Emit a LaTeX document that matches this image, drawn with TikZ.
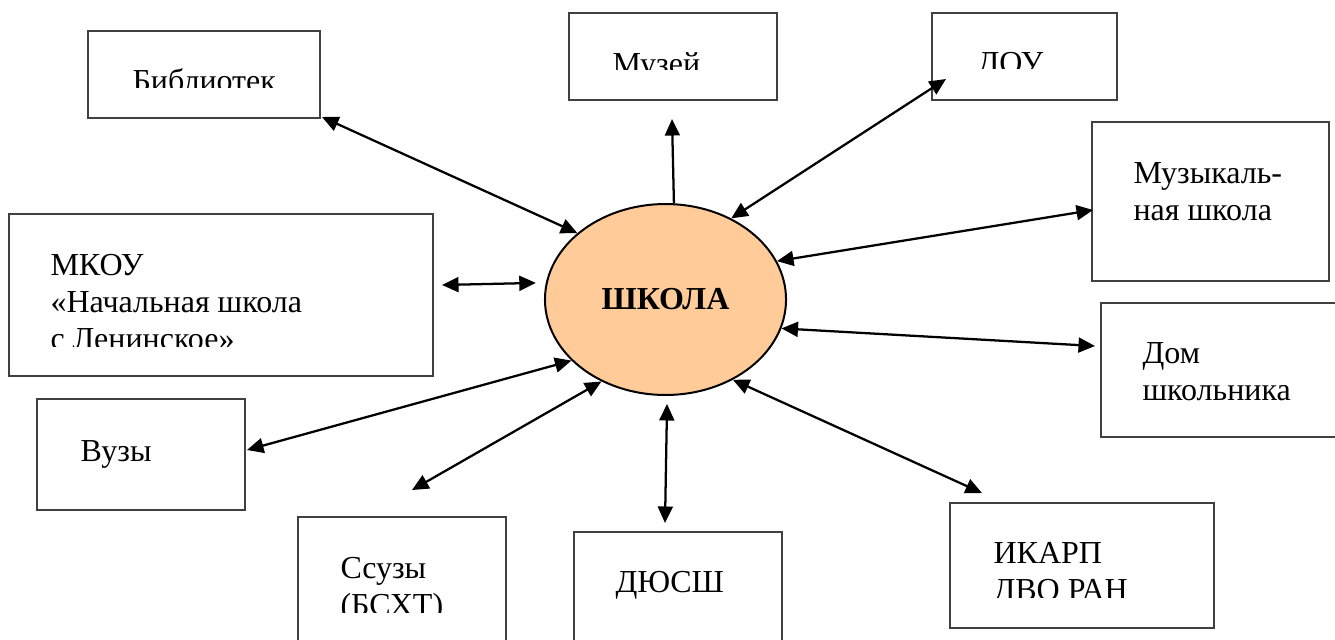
\documentclass[tikz,border=0pt]{standalone}
\usepackage{fontspec}
\setmainfont{Liberation Serif}
\usetikzlibrary{arrows.meta,fit,shapes.geometric}
\definecolor{schoolfill}{HTML}{FFCC99}

\begin{document}
\begin{tikzpicture}[x=0.375pt, y=-0.375pt,
    >={Triangle[length=6.2pt, width=5.6pt]},
    box/.style={draw=black!75, line width=0.4pt, inner sep=0pt},
    txt/.style={anchor=base west, inner sep=0pt, align=left, font=\fontsize{12}{13.8}\selectfont},
    link/.style={<->, line width=0.85pt, black}]
\useasboundingbox (0,0) rectangle (1335,639);

\node [draw, ellipse, fill=schoolfill, line width=0.75pt, minimum width=90.4pt, minimum height=71.6pt, inner sep=0pt,
  font=\fontsize{12}{13.8}\selectfont\bfseries] (school) at (665.5,299.5) {ШКОЛА};

\node [box, fit={(88,31) (320,118)}] (lib) {};
\node [box, fit={(569,13) (777,100)}] (museum) {};
\node [box, fit={(932,13) (1117,100)}] (dou) {};
\node [box, fit={(1092,122) (1329,281)}] (music) {};
\node [box, fit={(9,214) (433,376)}] (mkou) {};
\node [box, fit={(1101,303) (1345,437)}] (dom) {};
\node [box, fit={(37,399) (245,510)}] (vuz) {};
\node [box, fit={(298,517) (506,660)}] (ssuz) {};
\node [box, fit={(574,532) (782,660)}] (dyussh) {};
\node [box, fit={(950,503) (1214,628)}] (ikarp) {};

% multi-line labels sit on the baseline of their last line
\begin{scope}
\clip (88,31) rectangle (320,87);
\node [txt] (lib-text) at (132,91) {Библиотек};
\end{scope}
\begin{scope}
\clip (569,13) rectangle (777,69);
\node [txt] (museum-text) at (612,74) {Музей};
\end{scope}
\begin{scope}
\clip (932,13) rectangle (1117,68);
\node [txt] (dou-text) at (977,73) {ДОУ};
\end{scope}
\node [txt] (music-text) at (1133,220) {Музыкаль-\\ная школа};
\begin{scope}
\clip (9,214) rectangle (433,346);
\node [txt] (mkou-text) at (50,349) {МКОУ\\«Начальная школа\\с Ленинское»};
\end{scope}
\node [txt] (dom-text) at (1142,400) {Дом\\школьника};
\node [txt] (vuz-text) at (80,461) {Вузы};
\begin{scope}
\clip (298,517) rectangle (506,612);
\node [txt] (ssuz-text) at (340,615) {Ссузы\\(БСХТ)};
\end{scope}
\node [txt] (dyussh-text) at (615,592) {ДЮСШ};
\begin{scope}
\clip (950,503) rectangle (1214,597);
\node [txt] (ikarp-text) at (993,600) {ИКАРП\\ДВО РАН};
\end{scope}

\coordinate (lib-end) at (322,117);
\coordinate (museum-end) at (672,119);
\coordinate (dou-end) at (946,79);
\coordinate (music-end) at (1093,210);
\coordinate (dom-end) at (1095,346);
\coordinate (ikarp-end) at (982,493);
\coordinate (dyussh-end) at (665,523);
\coordinate (ssuz-end) at (412,490);
\coordinate (vuz-end) at (247,450);
\coordinate (mkou-end) at (442,285);

\draw [link] (school.143.3) -- (lib-end);
\draw [->, line width=0.85pt, black] (school.85) -- (museum-end);
\draw [link] (school.51) -- (dou-end);
\draw [link] (school.19.3) -- (music-end);
\draw [link] (school.-14.2) -- (dom-end);
\draw [link] (school.-50) -- (ikarp-end);
\draw [link, shorten <=3pt] (school.-89.7) -- (dyussh-end);
\draw [link] (school.232.6) -- (ssuz-end);
\draw [link] (school.213.6) -- (vuz-end);
\draw [link, shorten <=3.75pt] (school.172.8) -- (mkou-end);
\end{tikzpicture}
\end{document}
